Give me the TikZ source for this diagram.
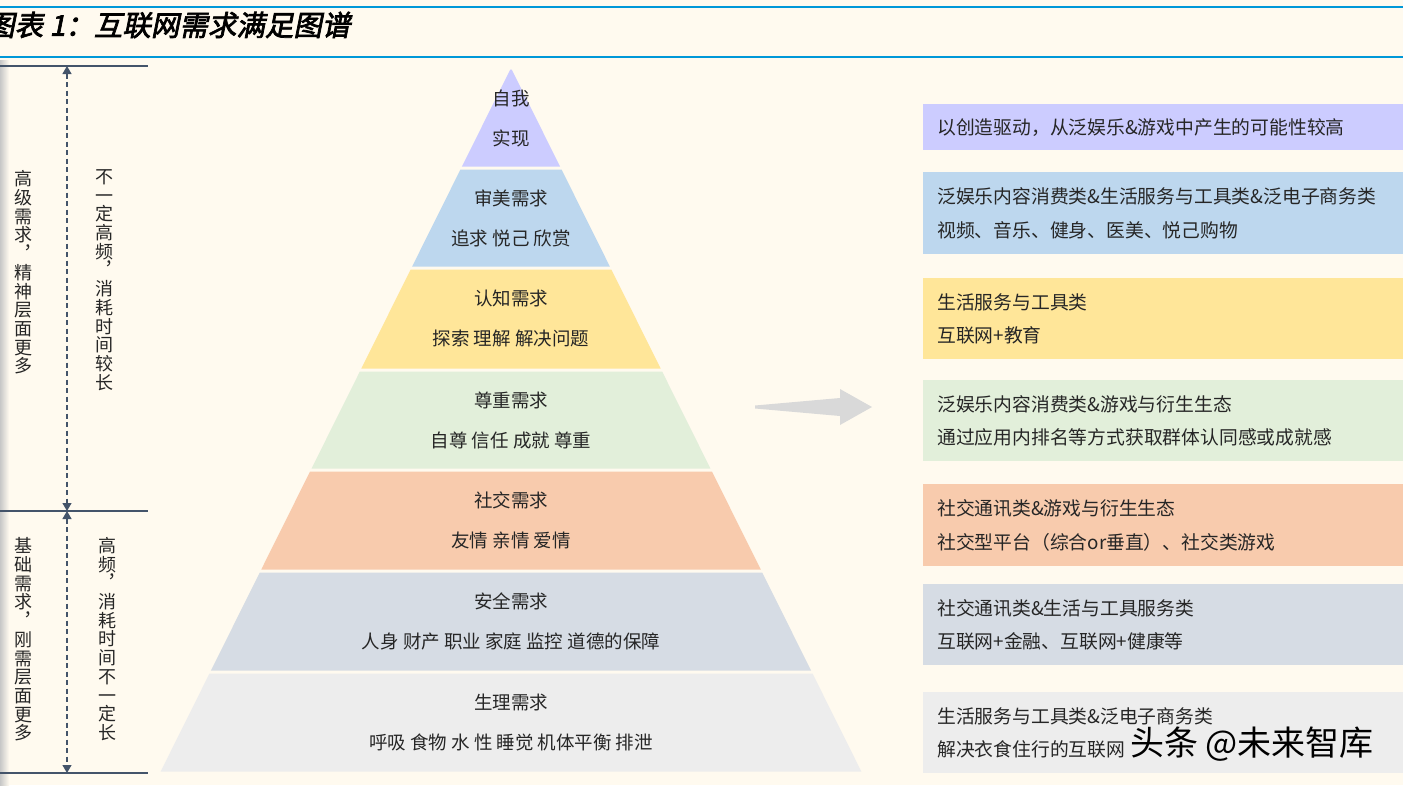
\documentclass[tikz,border=0pt]{standalone}
\usepackage{fontspec}
\setmainfont{Noto Sans CJK SC}
\newfontfamily\titlefont[FakeSlant=0.2,FakeBold=2.5]{Noto Sans CJK SC}
\usepackage{tikz}
\usetikzlibrary{arrows.meta}

\definecolor{bgcream}{HTML}{FFFAEF}
\definecolor{ruleblue}{HTML}{0098D8}
\definecolor{slate}{HTML}{44546A}
\definecolor{ink}{HTML}{262626}
\definecolor{pointer}{HTML}{D9D9D9}
\definecolor{lvA}{HTML}{CCCCFF}
\definecolor{lvB}{HTML}{BDD7EE}
\definecolor{lvC}{HTML}{FFE699}
\definecolor{lvD}{HTML}{E2EFDA}
\definecolor{lvE}{HTML}{F8CBAD}
\definecolor{lvF}{HTML}{D6DCE4}
\definecolor{lvG}{HTML}{EDEDED}

\begin{document}
\begin{tikzpicture}[
  x=1pt, y=-1pt,
  needtitle/.style={text=ink, inner sep=0pt, font={\fontsize{18.5}{22}\selectfont}},
  needitems/.style={needtitle},
  sectorbox/.style={anchor=north west, text width=452pt, inner xsep=14pt, inner ysep=0pt, align=left, text=ink, font={\fontsize{18.8}{33.5}\selectfont}},
  spanline/.style={draw=slate, line width=1.6pt},
  spanarrow/.style={draw=slate, line width=1.2pt, dash pattern=on 5pt off 3.5pt, {Triangle[length=8pt,width=9pt]}-{Triangle[length=8pt,width=9pt]}},
  vlabel/.style={align=center, text=ink, inner sep=0pt, font={\fontsize{18}{18.7}\selectfont}}
]
\useasboundingbox (0,0) rectangle (1403,785);
\fill[bgcream] (0,0) rectangle (1403,785);
\shade[left color=black!22, right color=bgcream] (0,60) rectangle (9,785);

% Title
\draw[ruleblue, line width=2pt] (0,6.5) -- (1403,6.5);
\draw[ruleblue, line width=2pt] (0,56.5) -- (1403,56.5);
\node[anchor=west, inner sep=0pt, font={\titlefont\fontsize{28.5}{30}\selectfont}] (title) at (-14,25) {图表 1：互联网需求满足图谱};

% Left spans
\coordinate (hiTop) at (67,66);
\coordinate (split) at (67,511);
\coordinate (loBot) at (67,773);
\draw[spanline] (0,66) -- (148,66);
\draw[spanline] (0,511) -- (148,511);
\draw[spanline] (0,773) -- (148,773);
\draw[spanarrow] (hiTop) -- (split);
\draw[spanarrow] (split) -- (loBot);

\node[vlabel] (hiLeft) at (23.5,272.5) {高\\级\\需\\求\\︐\\精\\神\\层\\面\\更\\多};
\node[vlabel] (hiRight) at (104,280) {不\\一\\定\\高\\频\\︐\\消\\耗\\时\\间\\较\\长};
\node[vlabel] (loLeft) at (23,639.5) {基\\础\\需\\求\\︐\\刚\\需\\层\\面\\更\\多};
\node[vlabel] (loRight) at (107.5,639) {高\\频\\︐\\消\\耗\\时\\间\\不\\一\\定\\长};

% Pyramid
\foreach \i/\yt/\yb/\col/\name/\items in {
  1/68/168/lvA/自我/实现,
  2/168/268/lvB/审美需求/追求 悦己 欣赏,
  3/268/370/lvC/认知需求/探索 理解 解决问题,
  4/370/470/lvD/尊重需求/自尊 信任 成就 尊重,
  5/470/571/lvE/社交需求/友情 亲情 爱情,
  6/571/672/lvF/安全需求/人身 财产 职业 家庭 监控 道德的保障,
  7/672/773/lvG/生理需求/呼吸 食物 水 性 睡觉 机体平衡 排泄}
{
  \pgfmathsetmacro\wt{0.498*(\yt+1.5-68)}
  \pgfmathsetmacro\wb{0.498*(\yb-1.5-68)}
  \fill[\col] ({511-\wt},\yt+1.5) -- ({511+\wt},\yt+1.5) -- ({511+\wb},\yb-1.5) -- ({511-\wb},\yb-1.5) -- cycle;
  \node[needtitle] (need\i) at (511,\yt+30) {\name};
  \node[needitems] (items\i) at (511,\yt+70) {\items};
}

% Pointer
\fill[pointer] (755,405.5) -- (840,398) -- (840,389) -- (872,407) -- (840,425) -- (840,416) -- (755,408.5) -- cycle;

% Use cases
\foreach \i/\yt/\yb/\col/\txt in {
  1/104/150/lvA/{以创造驱动，从泛娱乐\&游戏中产生的可能性较高},
  2/172/254/lvB/{泛娱乐内容消费类\&生活服务与工具类\&泛电子商务类\\视频、音乐、健身、医美、悦己购物},
  3/278/359/lvC/{生活服务与工具类\\互联网+教育},
  4/380/461/lvD/{泛娱乐内容消费类\&游戏与衍生生态\\通过应用内排名等方式获取群体认同感或成就感},
  5/484/566/lvE/{社交通讯类\&游戏与衍生生态\\社交型平台（综合or垂直）、社交类游戏},
  6/584/665/lvF/{社交通讯类\&生活与工具服务类\\互联网+金融、互联网+健康等},
  7/692/773/lvG/{生活服务与工具类\&泛电子商务类\\解决衣食住行的互联网}}
{
  \node[sectorbox, fill=\col, minimum height={\yb-\yt}] (use\i) at (923,\yt) {\txt};
}

\node[inner sep=0pt, text=black, font={\fontsize{34}{36}\selectfont}] (mark) at (1252,744) {头条 @未来智库};

\end{tikzpicture}
\end{document}
